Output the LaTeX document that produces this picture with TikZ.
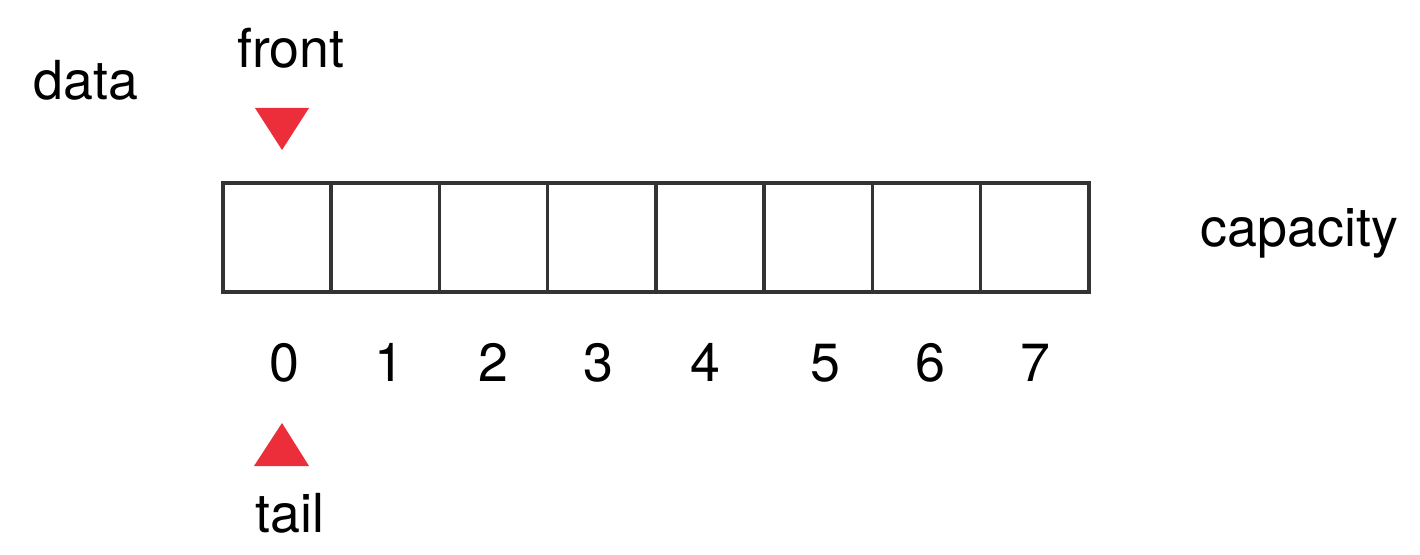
\documentclass[tikz,border=0pt]{standalone}
\usepackage{fontspec}
\setmainfont{TeX Gyre Heros}
\usetikzlibrary{positioning, calc}
\definecolor{ptrred}{RGB}{236,46,58}

\begin{document}
\begin{tikzpicture}[
    cell/.style={draw=black!80, line width=1pt, minimum width=1.0825cm, minimum height=1.09cm,
                 inner sep=0pt, outer sep=0pt},
    lbl/.style={font=\fontsize{15.3}{18}\selectfont, anchor=base, inner sep=0pt},
    ptr/.style={fill=ptrred},
]
\useasboundingbox (0,0) rectangle (14.2,5.54);
% === Array cells ===
\foreach \i in {0,...,7}
  \node[cell] (c\i) at ({2.23+0.541+1.0825*\i}, 3.165) {};
% === Index labels ===
\foreach \i/\x in {0/2.84, 1/3.89, 2/4.93, 3/5.98, 4/7.05, 5/8.25, 6/9.30, 7/10.35}
  \node[lbl] (idx\i) at (\x, 1.72) {\i};
% === Names ===
\node[lbl] (data) at (0.86, 4.54) {data};
\node[lbl] (front) at (2.91, 4.86) {front};
\node[lbl] (tail) at (2.90, 0.22) {tail};
\node[lbl, anchor=base west] (cap) at (12.00, 3.07) {capacity};
% === Pointers ===
\fill[ptr] (2.55,4.46) -- (3.09,4.46) -- (2.82,4.04) -- cycle;
\fill[ptr] (2.54,0.88) -- (3.09,0.88) -- (2.82,1.31) -- cycle;
\end{tikzpicture}
\end{document}
